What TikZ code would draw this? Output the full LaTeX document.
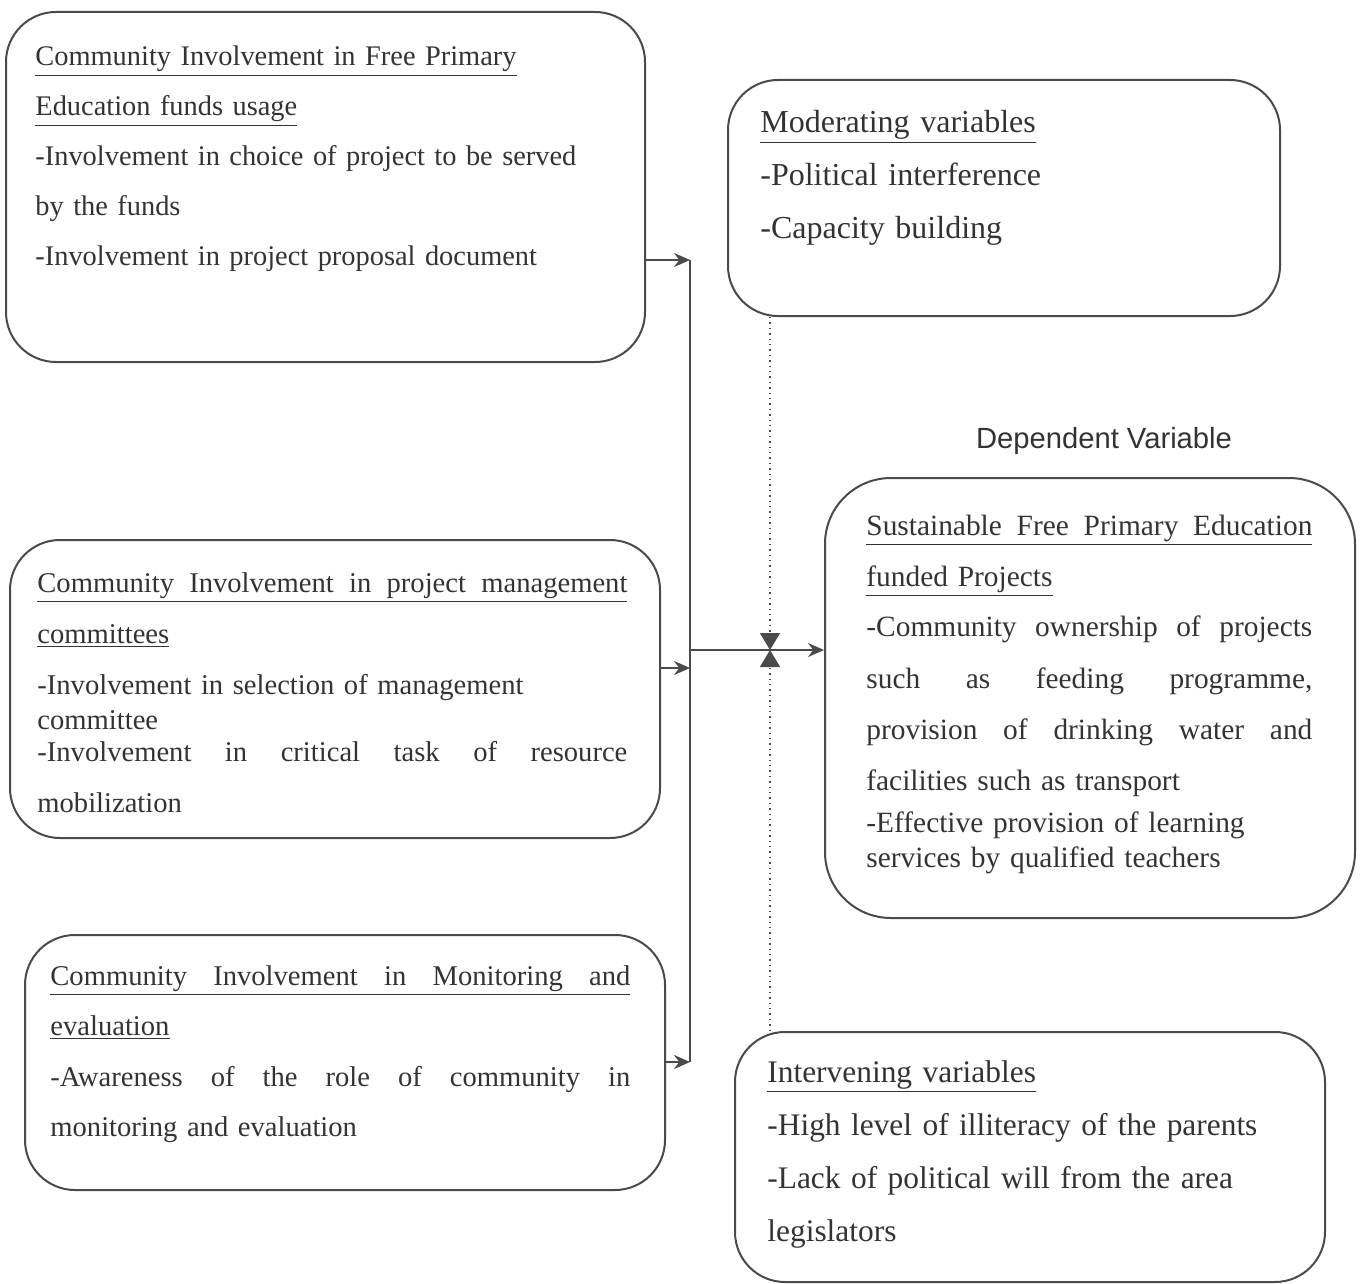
\documentclass[tikz,border=0pt]{standalone}
\usepackage{fontspec}
\setmainfont{Liberation Serif}
\newfontfamily\labelfont{Liberation Sans}
\usetikzlibrary{arrows.meta,fit}

\definecolor{ink}{HTML}{333333}
\definecolor{rule}{HTML}{4A4A4A}

\newcommand\hd[1]{\underline{#1}}
\newcommand\jline[1]{\leavevmode\hbox to\linewidth{\spaceskip=.25em plus 1fil\relax #1}}

\tikzset{
  box/.style={draw=rule, line width=1pt, rounded corners=25pt, inner sep=0pt},
  txt/.style={anchor=base west, inner sep=0pt, align=left, text=ink},
  link/.style={draw=rule, line width=1pt, -{Stealth[length=8pt,width=7pt]}},
  bus/.style={draw=rule, line width=1.2pt},
  dotline/.style={draw=rule, line width=0.7pt, dotted, -{Triangle[length=8.5pt,width=10pt]}}
}

\begin{document}
\begin{tikzpicture}[x=0.5pt,y=-0.5pt]
\useasboundingbox (0,0) rectangle (1362,1284);

% boxes
\node[box, fit={(6,12) (645,362)}] (fpe) {};
\node[box, fit={(728,80) (1280,316)}] (mod) {};
\node[box, fit={(10,540) (660,838)}] (pmc) {};
\node[box, rounded corners=33pt, fit={(825,478) (1355,918)}] (dep) {};
\node[box, fit={(25,935) (665,1190)}] (mne) {};
\node[box, fit={(735,1032) (1325,1282)}] (inv) {};

% texts
\node[txt, text width=300pt, font=\fontsize{14.2}{25}\selectfont] (fpetext) at (35,66)
  {\hd{Community Involvement in Free Primary}\\
   \hd{Education funds usage}\\
   -Involvement in choice of project to be served\\
   by the funds\\
   -Involvement in project proposal document};

\node[txt, text width=260pt, font=\fontsize{16}{26.5}\selectfont] (modtext) at (760,133)
  {\hd{Moderating variables}\\
   -Political interference\\
   -Capacity building};

\node[txt, text width=295pt, font=\fontsize{14.3}{25.5}\selectfont] (pmctext) at (37,592)
  {\hd{\jline{Community Involvement in project management}}\\
   \hd{committees}\\
   -Involvement in selection of management\\[-8pt]
   committee\\[-9.5pt]
   \jline{-Involvement in critical task of resource}\\
   mobilization};

\node[text=ink, font=\labelfont\fontsize{14.6}{18}\selectfont] (deplabel) at (1104,441) {Dependent Variable};

\node[txt, text width=223pt, font=\fontsize{14.7}{25.5}\selectfont] (deptext) at (866,535)
  {\hd{\jline{Sustainable Free Primary Education}}\\
   \hd{funded Projects}\\
   \jline{-Community ownership of projects}\\
   \jline{such as feeding programme,}\\
   \jline{provision of drinking water and}\\
   facilities such as transport\\[-4pt]
   -Effective provision of learning\\[-8pt]
   services by qualified teachers};

\node[txt, text width=290pt, font=\fontsize{14.3}{25.3}\selectfont] (mnetext) at (50,985)
  {\hd{\jline{Community Involvement in Monitoring and}}\\
   \hd{evaluation}\\
   \jline{-Awareness of the role of community in}\\
   monitoring and evaluation};

\node[txt, text width=290pt, font=\fontsize{15.7}{26.5}\selectfont] (invtext) at (767,1082)
  {\hd{Intervening variables}\\
   -High level of illiteracy of the parents\\
   -Lack of political will from the area\\
   legislators};

% connectors
\coordinate (bustop) at (690,260);
\coordinate (busmid) at (690,668);
\coordinate (busend) at (690,1062);
\coordinate (join) at (690,650);
\coordinate (meet) at (770,650);

\draw[bus] (bustop) -- (busend);
\draw[link] (fpe.east |- bustop) -- (bustop);
\draw[link] (pmc.east |- busmid) -- (busmid);
\draw[link] (mne.east |- busend) -- (busend);
\draw[link] (join) -- (dep.west |- join);

\draw[dotline] (mod.south -| meet) -- (meet);
\draw[dotline] (inv.north -| meet) -- (meet);

\end{tikzpicture}
\end{document}
